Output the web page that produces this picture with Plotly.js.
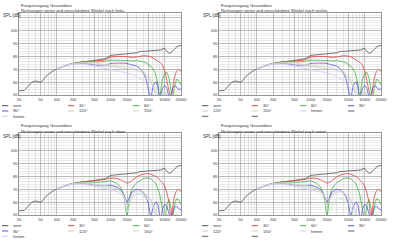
<!DOCTYPE html>
<html><head><meta charset="utf-8">
<script src="https://cdn.plot.ly/plotly-3.0.1.min.js"></script>
<style>html,body{margin:0;padding:0;background:#fff}#chart{width:400px;height:241px}</style>
</head><body><div id="chart"></div>
<script>
// Frequencies (Hz)
const freqAll = [20,25,30,35,40,45,50,56,63,71,80,90,100,125,150,200,250,300,400,500,630,800,900,1000,1250,1500,1750,2000,2250,2500,3000,3500,4000,4500,5000,5500,6000,6500,7000,7500,8000,8500,9000,10000,11000,12000,13000,14000,15000,16500,18000,20000];
const freqOff = [100,125,150,200,250,300,400,500,630,800,900,1000,1250,1500,1750,2000,2250,2500,3000,3500,4000,4500,5000,5500,6000,6500,7000,7500,8000,8500,9000,10000,11000,12000,13000,14000,15000,16500,18000,20000];

// SPL on axis (all panels)
const vorn = [53.2,53.7,57,60,60.9,60.5,59.9,61.5,64.5,66.3,68.2,69.3,70.2,71.8,73.1,74.5,75.3,75.8,76.3,76.6,77.5,78.3,79.5,80.8,81.2,81.5,81.7,82,82,82.3,82.8,83.8,84,84,84,84.2,84.2,84.3,84.4,84.5,84.6,85,85.8,86.4,84,82.3,83,84.5,86,87.2,88,88.6];

// horizontal plane (links / rechts)
const hor30 = [70.2,71.8,73.1,74.5,75.3,75.8,76.2,76.4,76.8,77.5,78.5,79.5,80,80.3,80,79.8,79.4,79.2,79.6,80.4,80.6,80.5,80.3,79.8,79,78.2,77.5,76.5,75.5,74.5,73.5,69,62,54,46,55,63,68.5,70,68.5];
const hor60 = [70.2,71.8,73.1,74.5,75.2,75.6,75.8,75.6,75.8,76.3,76.8,77,77,76.8,76.5,76.3,76.3,76.5,76.8,76.5,75.8,75,74,72.5,70.5,68,64,58,46,56,62,67,67.5,63,55,46,56,62,61.5,58];
const hor90 = [70.2,71.8,73.1,74.3,74.6,74.6,74,73.5,73,73.2,73.8,74.5,74.8,75,74.8,74.5,74,73.5,72.5,70.5,67.5,62.5,55,46,56,59.5,60,56,47,50,55,57.5,55,48,50,55,57,56.5,54,55];
const hor120 = [70.2,71.8,73.1,74.2,74.6,74.8,74.5,74,73.5,73,72.6,72.3,72,71.6,71.2,70.8,70.4,70,69.4,68.3,67,65.3,63,60.5,57,53,48,45,46,48,50.5,52,49,45,44,46,49,50.5,48,46];
const hor150 = [70.2,71.8,73.1,74.4,75,75.3,75.2,74.8,74.3,73.8,73.5,73.3,73,72.7,72.3,72,71.6,71.2,70.5,69.5,68.3,66.8,65,62.5,59.5,56,51.5,47,46,49,51.5,53,51,47,45,48,51,52.5,51,49];
const horHinten = [70.2,71.8,73.1,74,74.2,74,73.3,72.5,71.7,71,70.5,70,69.3,68.6,68,67.4,66.7,66,64.6,63,61.2,59.2,57,54.5,51.5,48,45,44,44,45,46,47,46,44,44,45,46,47,46,45];

// vertical plane (oben / unten)
const ver30 = [70.2,71.8,73.1,74.5,75.3,75.8,76.3,76.6,77,77.6,78.3,78.8,78.5,77.5,76,74.8,75.5,77,79.5,81,81.8,82.2,82.2,81.8,81.2,80.5,79.8,78.8,77.5,76.3,75.2,72.5,67,60,46,55,64,69,70,68];
const ver60 = [70.2,71.8,73.1,74.5,75.2,75.6,75.6,75.4,75.5,76,76.5,76.5,75,72,66,47,65,71,75,77,78.2,78.8,78.8,78.2,77,75.5,73.5,70.5,66.5,61,55,46,58,62,56,46,57,62.5,62,58];
const ver90 = [70.2,71.8,73.1,74.3,74.5,74.5,74,73.4,73,73,73.2,73.2,72,70,66,59.5,64,68,70,69.5,67.5,64,58.5,48,55,59,60,57.5,50,46,54,58.5,56.5,50,46,52,56,57,55,54];
const ver120 = [70.2,71.8,73.1,74.2,74.6,74.7,74.2,73.6,73,72.5,72.2,71.8,70.8,69,65.5,58,62,66,68.3,68.5,67.8,66.3,64.3,62,59,55.5,51.5,47,45,47,50,52.5,51,46,44,46,49,51,49,46];
const oben150 = [70.2,71.8,73.1,74.4,74.9,75.1,74.8,74.2,73.6,73,72.6,72.2,71,68.5,63.5,52,58,63.5,66.5,67.2,66.5,65,63,60.5,57.5,54,50,46,45,47,49.5,51.5,50,46,44,46,49,51,49.5,47];
const obenHinten = [70.2,71.8,73.1,74,74.2,73.9,73.2,72.4,71.5,70.7,70.2,69.7,68.5,66.5,63,57,60.5,64,66,66,65,63.3,61,58.5,55.5,52,48,45,44,45,47,48.5,47,45,44,45,46,47,46,45];
const unten150 = [70.2,71.8,73.1,74.4,74.9,75.1,74.8,74.2,73.6,73,72.6,72.2,70.5,67,62,55,53,57,61.5,63,62.5,61,59,56.5,53.5,50,46,44,44,46,48.5,50.5,49,45,44,45,48,50,48.5,46];
const untenHinten = [70.2,71.8,73.1,74,74.2,73.9,73.2,72.4,71.5,70.7,70.2,69.7,69,68,66,62,62.5,65,67.5,68,67.2,65.5,63.3,60.7,57.5,54,50,46.5,45,46,48,49.5,48,45,44,45,46,47.5,46,45];

const seriesNames = ['vorn','30°','60°','90°','120°','150°','hinten'];
const seriesColors = ['#505050','#e04848','#44b044','#5858d8','#dcc4c4','#c4e4c4','#cfcff4'];
const panelTitle1 = 'Frequenzgang Gesamtbox';
const panelTitles2 = ['Richtungen vorne und verschiedene Winkel nach links','Richtungen vorne und verschiedene Winkel nach rechts','Richtungen vorne und verschiedene Winkel nach oben','Richtungen vorne und verschiedene Winkel nach unten'];
const panelSeries = [
  [vorn,hor30,hor60,hor90,hor120,hor150,horHinten],
  [vorn,hor30,hor60,hor90,hor120,hor150,horHinten],
  [vorn,ver30,ver60,ver90,ver120,oben150,obenHinten],
  [vorn,ver30,ver60,ver90,ver120,unten150,untenHinten]
];
const legendCols = [3,4,3,4];
const extraLegendEntries = [0,3,0,3];
const xTickVals = [20,50,100,200,500,1000,2000,5000,10000,20000];
const xTickText = ['20','50','100','200','500','1000','2000','5000','10000','20000'];
const xMinorVals = [30,40,60,70,80,90,300,400,600,700,800,900,3000,4000,6000,7000,8000,9000];
const yTickVals = [50,60,70,80,90,100,110];
const yTickText = ['50','60','70','80','90','100',''];

const W = 400, H = 241;
const origins = [[0,0],[200,0],[0,120],[200,120]];
const FONT = 'Liberation Sans, Arial, sans-serif';
const traces = [], annotations = [], shapes = [];
const layout = {width:W, height:H, margin:{l:0,r:0,t:0,b:0}, paper_bgcolor:'#fff', plot_bgcolor:'#fff', showlegend:false, font:{family:FONT, size:4, color:'#333'}};

origins.forEach(([ox,oy], p) => {
  const n = p === 0 ? '' : String(p+1);
  const xa = 'xaxis'+n, ya = 'yaxis'+n;
  layout[xa] = {
    type:'log', range:[Math.log10(20), Math.log10(20000)],
    domain:[(ox+19)/W, (ox+181)/W], anchor:'y'+n,
    tickmode:'array', tickvals:xTickVals, ticktext:xTickText,
    tickfont:{size:4, color:'#333'}, ticks:'', ticklen:0,
    showgrid:true, gridcolor:'#9a9a9a', gridwidth:0.6,
    minor:{tickmode:'array', tickvals:xMinorVals, showgrid:true, gridcolor:'#cccccc', gridwidth:0.5, ticks:''},
    showline:true, mirror:true, linecolor:'#7a7a7a', linewidth:0.8, zeroline:false, fixedrange:true
  };
  layout[ya] = {
    range:[50,114], domain:[1-(oy+95)/H, 1-(oy+12.7)/H], anchor:'x'+n,
    tickmode:'array', tickvals:yTickVals, ticktext:yTickText,
    tickfont:{size:4, color:'#333'}, ticks:'', ticklen:0,
    showgrid:true, gridcolor:'#9a9a9a', gridwidth:0.6,
    minor:{dtick:2, tick0:50, showgrid:true, gridcolor:'#d6d6d6', gridwidth:0.5, ticks:''},
    showline:true, mirror:true, linecolor:'#7a7a7a', linewidth:0.8, zeroline:false, fixedrange:true
  };
  panelSeries[p].forEach((vals, i) => {
    traces.push({type:'scatter', mode:'lines', x: i === 0 ? freqAll : freqOff, y: vals,
      xaxis:'x'+n, yaxis:'y'+n, line:{color:seriesColors[i], width:0.8}, hoverinfo:'skip', showlegend:false});
  });
  // titles
  annotations.push({text:panelTitle1, xref:'paper', yref:'paper', x:(ox+19)/W, y:1-(oy+5)/H, xanchor:'left', yanchor:'middle', showarrow:false, font:{size:4.3, color:'#333'}});
  annotations.push({text:panelTitles2[p], xref:'paper', yref:'paper', x:(ox+19)/W, y:1-(oy+11)/H, xanchor:'left', yanchor:'middle', showarrow:false, font:{size:4.3, color:'#333'}});
  annotations.push({text:'SPL [dB]', xref:'paper', yref:'paper', x:(ox+0.5)/W, y:1-(oy+16)/H, xanchor:'left', yanchor:'middle', showarrow:false, font:{size:4.5, color:'#333'}});
  // legend (drawn as text + line samples)
  const nc = legendCols[p];
  const colX = nc === 3 ? [2,68,133] : [2,51.7,100,148];
  const rowY = [105.7,111,116.3];
  const entries = seriesNames.map((s,i)=>({label:s, color:seriesColors[i]}));
  for (let k=0;k<extraLegendEntries[p];k++) entries.push({label:'', color:'#606060'});
  entries.forEach((e, i) => {
    const r = Math.floor(i/nc), c = i % nc;
    const lx = ox + colX[c], ly = oy + rowY[r];
    shapes.push({type:'line', xref:'paper', yref:'paper', x0:lx/W, x1:(lx+6.3)/W, y0:1-ly/H, y1:1-ly/H, line:{color:e.color, width:1}});
    if (e.label) annotations.push({text:e.label, xref:'paper', yref:'paper', x:(lx+9)/W, y:1-ly/H, xanchor:'left', yanchor:'middle', showarrow:false, font:{size:4.2, color:'#333'}});
  });
});
layout.annotations = annotations;
layout.shapes = shapes;
Plotly.newPlot('chart', traces, layout, {staticPlot:true, displayModeBar:false});
</script>
</body></html>
